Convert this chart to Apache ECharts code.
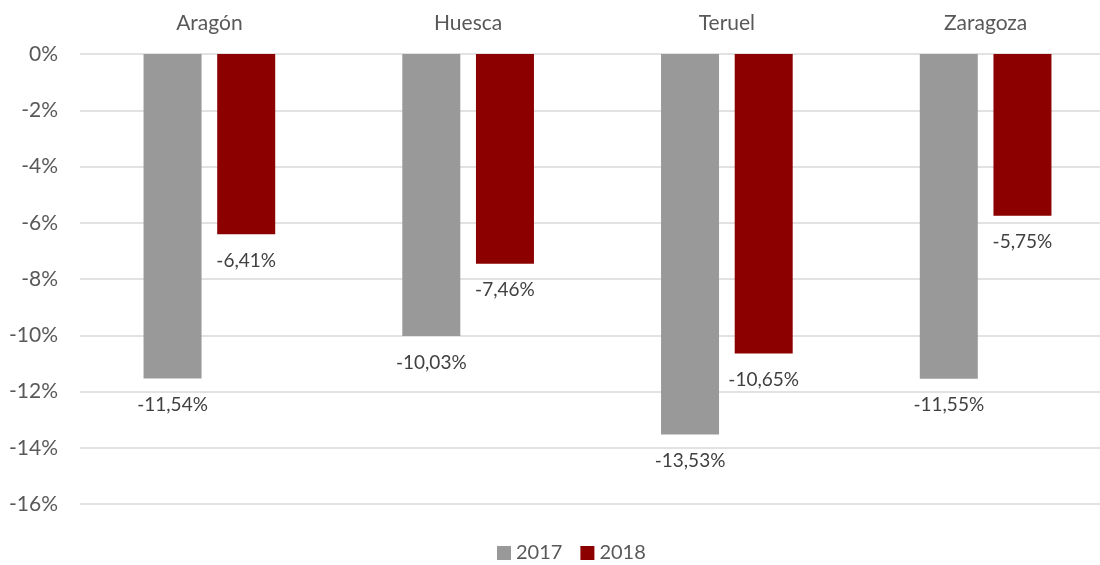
<!DOCTYPE html>
<html><head><meta charset="utf-8">
<script src="https://cdn.jsdelivr.net/npm/echarts@6/dist/echarts.min.js"></script>
<style>html,body{margin:0;padding:0;background:#fff;overflow:hidden;width:1100px;height:565px}#c{width:1116px;height:565px}</style>
</head><body><div id="c"></div>
<script>
const categories = ['Aragón', 'Huesca', 'Teruel', 'Zaragoza'];
const seriesNames = ['2017', '2018'];
const values2017 = [-11.54, -10.03, -13.53, -11.55];
const values2018 = [-6.41, -7.46, -10.65, -5.75];
const colors = ['#999999', '#8c0000'];

const fmtPct = v => v.toFixed(2).replace('.', ',') + '%';
const chart = echarts.init(document.getElementById('c'), null, {renderer: 'canvas'});
const font = 'Lato, "Open Sans", sans-serif';
const mk = (name, data, color) => ({
  name, type: 'bar', data, barWidth: 58, barGap: '27%',
  itemStyle: {color},
  label: {show: true, position: 'bottom', distance: 17, color: '#404040', fontSize: 19, fontFamily: font,
    formatter: p => fmtPct(p.value)}
});
chart.setOption({
  animation: false,
  grid: {left: 80, right: 1, top: 54, bottom: 61, containLabel: false},
  xAxis: {type: 'category', data: categories, position: 'top',
    axisLine: {show: false}, axisTick: {show: false},
    axisLabel: {color: '#595959', fontSize: 21, fontFamily: font, margin: 20}},
  yAxis: {type: 'value', min: -16, max: 0, interval: 2,
    axisLabel: {color: '#595959', fontSize: 21, fontFamily: font, margin: 22, formatter: v => v + '%'},
    splitLine: {lineStyle: {color: '#d9d9d9', width: 1.5}},
    axisLine: {show: false}, axisTick: {show: false}},
  legend: {bottom: -3, left: 492, itemWidth: 14, itemHeight: 14, itemGap: 18,
    icon: 'rect', textStyle: {color: '#595959', fontSize: 20, fontFamily: font},
    data: seriesNames},
  series: [mk(seriesNames[0], values2017, colors[0]), mk(seriesNames[1], values2018, colors[1])]
});
</script></body></html>
